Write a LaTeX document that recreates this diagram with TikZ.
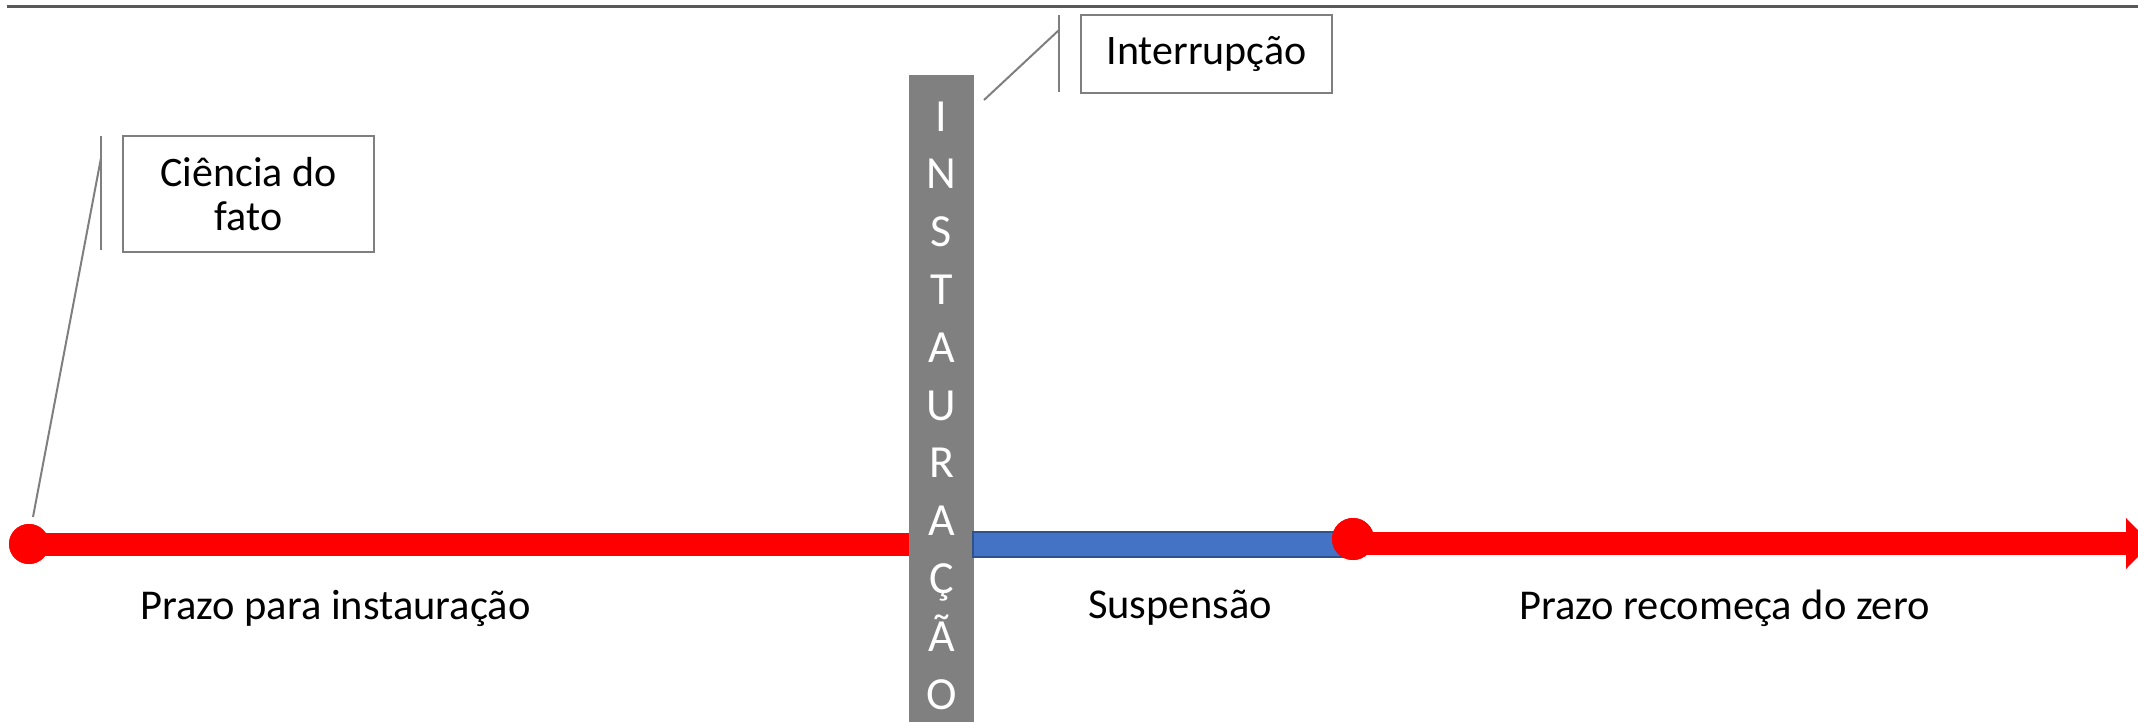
\documentclass[tikz,border=0pt]{standalone}
\usepackage{fontspec}
\setmainfont{Carlito}
\definecolor{topline}{HTML}{595959}
\definecolor{callg}{HTML}{7F7F7F}
\definecolor{barg}{HTML}{808080}
\definecolor{bluefill}{HTML}{4472C4}
\definecolor{blueedge}{HTML}{2F528F}
\definecolor{redline}{HTML}{FF0000}
\tikzset{
  calloutbox/.style={draw=callg, line width=2pt, fill=white, inner sep=0pt, align=center, font=\fontsize{42}{44}\selectfont},
  calloutline/.style={draw=callg, line width=2pt},
  redbar/.style={draw=redline, line width=23pt},
  reddot/.style={circle, fill=redline, inner sep=0pt},
  label/.style={anchor=base, font=\fontsize{42.5}{50}\selectfont},
  barletter/.style={anchor=base, text=white, inner sep=0pt, font=\fontsize{46}{50}\selectfont}
}
\begin{document}
\begin{tikzpicture}[x=1pt,y=-1pt]
\useasboundingbox (0,0) rectangle (2138,721);
\clip (0,0) rectangle (2138,721);
% top rule
\coordinate (tl) at (7,6);
\coordinate (tr) at (2138,6);
\draw[topline, line width=3pt] (tl) -- (tr);

% red line left
\node[reddot, minimum size=40pt] (dotL) at (29,544) {};
\node[fill=barg, inner sep=0pt, minimum width=65pt, minimum height=680pt, anchor=north west] (bar) at (909,75) {};
\draw[redbar] (dotL.center) -- (dotL.center -| bar.west);
\node[reddot, minimum size=40pt] at (29,544) {};

% blue suspension bar
\node[fill=bluefill, draw=blueedge, line width=2pt, inner sep=0pt, minimum width=381pt, minimum height=25pt, anchor=west] (susp) at (972,544) {};

% right red line and arrow
\node[reddot, minimum size=42pt] (dotR) at (1353,539) {};
\coordinate (arrbase) at (2126,543.5);
\draw[redbar] (1353,543.5) -- (arrbase);
\fill[redline] (2126,518) -- (2151,543.5) -- (2126,569) -- cycle;
\node[reddot, minimum size=42pt] at (1353,539) {};

% bar letters
\foreach \ch [count=\i from 0] in {I,N,S,T,A,U,R,A,Ç,Ã,O} {
  \node[barletter] (l\i) at (941.5,{131+57.8*\i}) {\ch};
}

% Ciência do fato callout
\node[calloutbox, minimum width=251pt, minimum height=116pt, anchor=north west] (cbox) at (122,135) {Ciência do\\fato};
\coordinate (cv1) at (101,136);
\coordinate (cv2) at (101,250);
\coordinate (cd1) at (101,158);
\draw[calloutline] (cv1) -- (cv2);
\draw[calloutline] (cd1) -- (33,517);

% Interrupcao callout
\node[calloutbox, minimum width=251pt, minimum height=78pt, anchor=north west] (ibox) at (1080,14) {Interrupção};
\coordinate (iv1) at (1059,15);
\coordinate (iv2) at (1059,92);
\coordinate (id1) at (1059,30);
\coordinate (id2) at (984,100);
\draw[calloutline] (iv1) -- (iv2);
\draw[calloutline] (id1) -- (id2);

% labels
\node[label] (lab1) at (335.5,619) {Prazo para instauração};
\node[label] (lab2) at (1180,618) {Suspensão};
\node[label] (lab3) at (1724.5,619) {Prazo recomeça do zero};
\end{tikzpicture}
\end{document}
